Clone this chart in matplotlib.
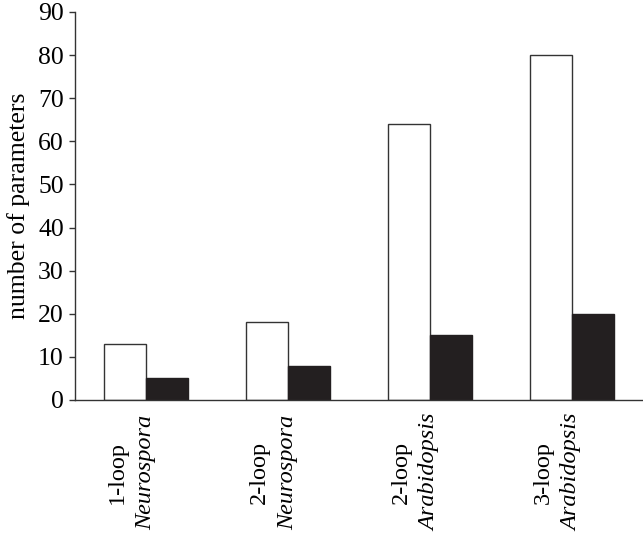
import matplotlib
matplotlib.use("Agg")
import matplotlib.pyplot as plt
import numpy as np

plt.rcParams['font.family'] = ['Liberation Serif', 'DejaVu Serif']

models = ["1-loop", "2-loop", "2-loop", "3-loop"]
organisms = ["Neurospora", "Neurospora", "Arabidopsis", "Arabidopsis"]
white_vals = [13, 18, 64, 80]
black_vals = [5, 8, 15, 20]
yticks = [0, 10, 20, 30, 40, 50, 60, 70, 80, 90]

fig = plt.figure(figsize=(6.43, 5.35), dpi=100)
ax = fig.add_axes([75/643, 135/535, 1 - 75/643, 388/535])

x = np.arange(len(models))
w = 0.295
edge = '#333333'
ax.bar(x - w/2, white_vals, width=w, color='white', edgecolor=edge, linewidth=1.0)
ax.bar(x + w/2, black_vals, width=w, color='#231f20', edgecolor='#231f20', linewidth=1.0)

ax.set_xlim(-0.5, 3.5)
ax.set_ylim(0, 90)
ax.set_yticks(yticks)
ax.set_yticklabels([str(t) for t in yticks], fontsize=18.5)
ax.set_xticks([])
for s in ['top', 'right']:
    ax.spines[s].set_visible(False)
for s in ['left', 'bottom']:
    ax.spines[s].set_color(edge)
    ax.spines[s].set_linewidth(1.0)
ax.tick_params(axis='y', direction='out', length=4, width=1.0, color=edge, pad=4)

ax.set_ylabel("number of parameters", fontsize=18.5, labelpad=6)

trans = matplotlib.transforms.blended_transform_factory(ax.transData, ax.transAxes)
for i, (m, o) in enumerate(zip(models, organisms)):
    ax.text(i - 0.2, -0.187, m, rotation=90, ha='center', va='center',
            fontsize=17.5, transform=trans)
    ax.text(i, -0.187, o, rotation=90, ha='center', va='center',
            fontsize=17.5, style='italic', transform=trans)

fig.savefig("out.png", dpi=100)
